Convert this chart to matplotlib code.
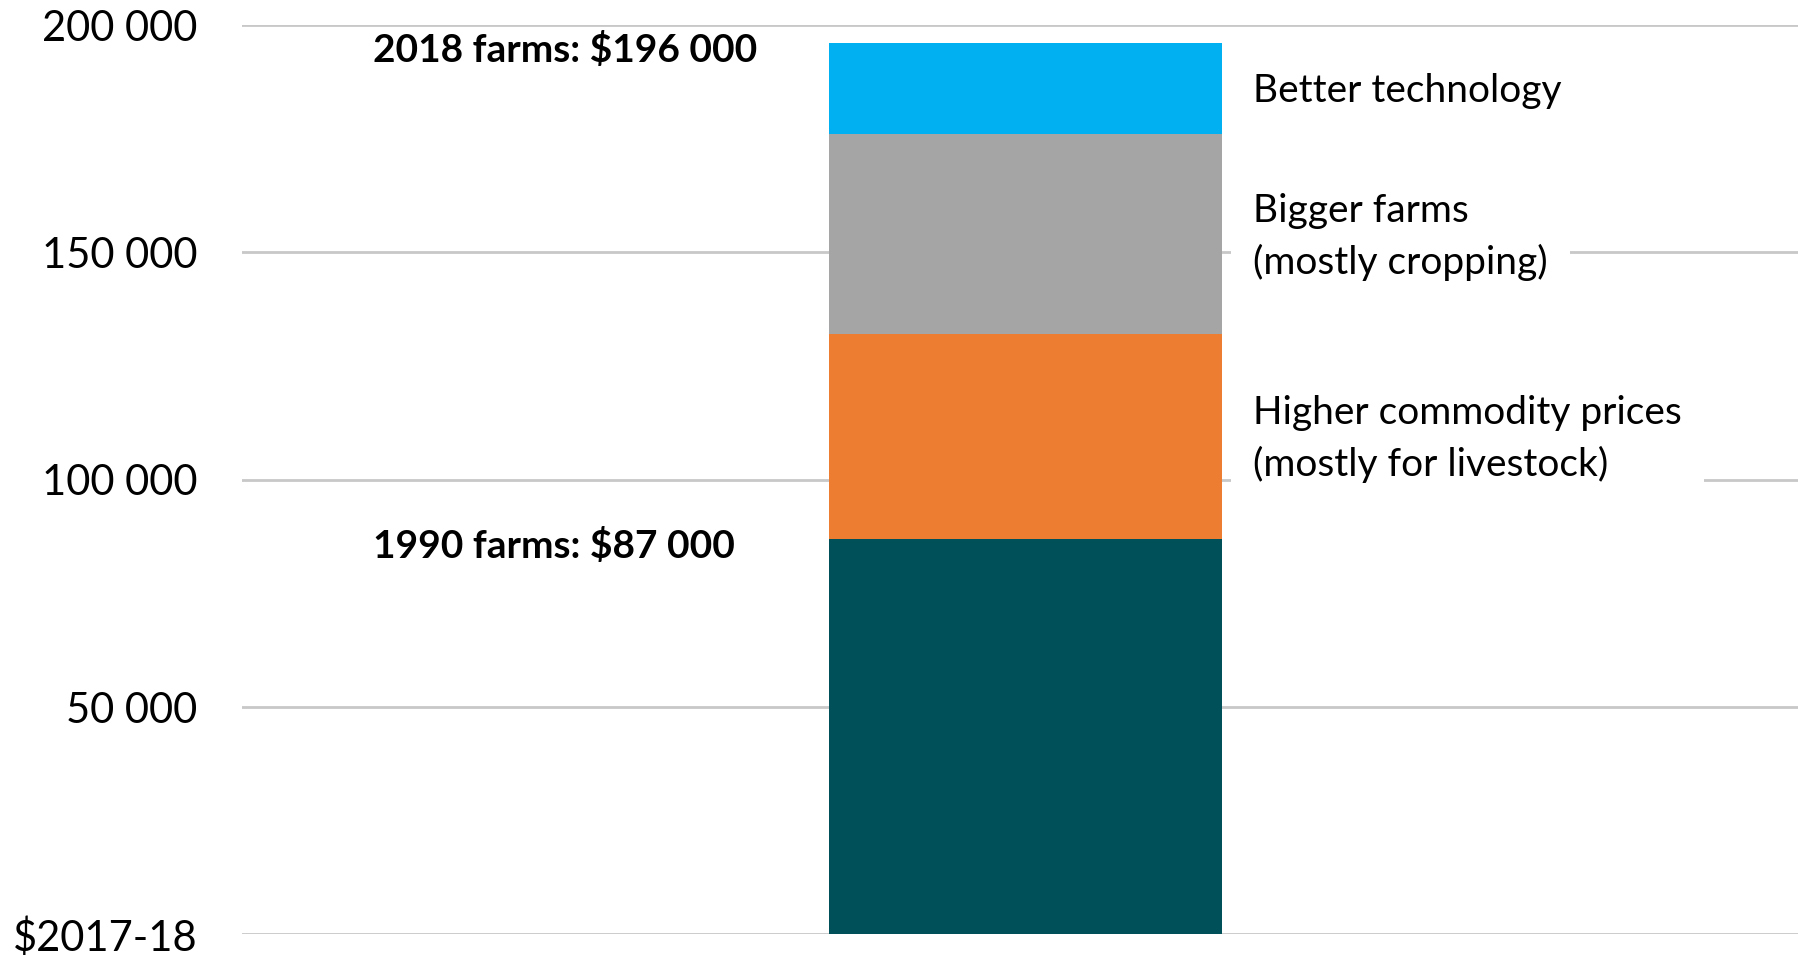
import matplotlib
matplotlib.use("Agg")
import matplotlib.pyplot as plt

# Farm income components ($2017-18), stacked from 1990 baseline upward
components = ["1990 farms", "Higher commodity prices", "Bigger farms", "Better technology"]
values = [87000, 45000, 44000, 20000]
colors = ["#00505A", "#ED7D31", "#A5A5A5", "#00B0F0"]

side_labels = {
    "Better technology": "Better technology",
    "Bigger farms": "Bigger farms\n(mostly cropping)",
    "Higher commodity prices": "Higher commodity prices\n(mostly for livestock)",
}

y_ticks = [0, 50000, 100000, 150000, 200000]
y_tick_labels = ["$2017-18", "50 000", "100 000", "150 000", "200 000"]

plt.rcParams["font.family"] = ["Lato", "DejaVu Sans"]

fig = plt.figure(figsize=(17.98, 9.55), dpi=100)
ax = fig.add_axes([0.1346, 0.0215, 0.8654, 0.9523])

bottom = 0
mids = {}
for name, v, c in zip(components, values, colors):
    ax.bar(0, v, width=1.0, bottom=bottom, color=c, zorder=3, linewidth=0)
    mids[name] = bottom + v / 2
    bottom += v
total = bottom

ax.set_xlim(-1.993, 1.966)
ax.set_ylim(0, 200000)
ax.set_yticks(y_ticks)
ax.set_yticklabels(y_tick_labels)
ax.tick_params(axis="y", length=0, pad=32, labelsize=30)
ax.set_xticks([])
for s in ax.spines.values():
    s.set_visible(False)
ax.yaxis.grid(True, color="#C8C8C8", linewidth=2, zorder=0)
ax.set_axisbelow(True)

# Right-hand labels for each growth component
for name, text in side_labels.items():
    ax.annotate(text, xy=(0.58, mids[name]), xytext=(0, -2),
                textcoords="offset points", ha="left", va="center",
                fontsize=28, linespacing=1.5, zorder=4,
                bbox=dict(facecolor="white", edgecolor="none", pad=16))

# Totals at the start and end of the period
for year, v in [("1990", values[0]), ("2018", total)]:
    label = f"{year} farms: ${v:,}".replace(",", " ")
    ax.annotate(label, xy=(0.0842, v), xycoords=("axes fraction", "data"),
                xytext=(0, -5), textcoords="offset points",
                ha="left", va="center", fontsize=28, fontweight="bold")

fig.savefig("out.png", dpi=100)
